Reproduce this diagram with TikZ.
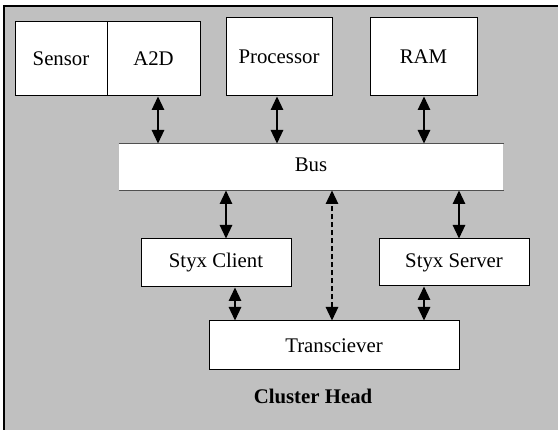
\documentclass[tikz,border=0pt]{standalone}
\usepackage{fontspec}
\setmainfont{Liberation Serif}
\usetikzlibrary{arrows.meta}
\definecolor{panelgray}{RGB}{192,192,192}
\definecolor{busline}{RGB}{80,80,80}
\tikzset{
  unit/.style={draw=black, line width=1pt, fill=white, rectangle, inner sep=0pt,
    font=\fontsize{20.8}{24}\selectfont},
  link/.style={line width=1.2pt, {Triangle[length=13.5pt,width=12.5pt]}-{Triangle[length=13.5pt,width=12.5pt]}},
  radio/.style={link, dash pattern=on 5pt off 3pt},
}
\begin{document}
\begin{tikzpicture}[x=1pt, y=-1pt]
\useasboundingbox (0,0) rectangle (558,430);
% grey housing of the cluster head
\draw[fill=panelgray, line width=1.3pt] (4,6) rectangle (575,445);

% top row
\node[unit, minimum width=92pt, minimum height=74pt] (sensor) at (61,59) {Sensor};
\node[unit, minimum width=93pt, minimum height=74pt] (a2d) at (153.5,59) {A2D};
\node[unit, minimum width=106pt, minimum height=78pt] (proc) at (279,57) {Processor};
\node[unit, minimum width=107pt, minimum height=78pt] (ram) at (423.5,57) {RAM};

% bus: white band with grey rules above and below
\node[unit, draw=none, minimum width=384pt, minimum height=46pt] (bus) at (311,167) {\raisebox{4pt}{Bus}};
\draw[busline, line width=1.5pt] (bus.north west) -- (bus.north east);
\draw[busline, line width=1.5pt] (bus.south west) -- (bus.south east);

% middle row
\node[unit, minimum width=150pt, minimum height=48pt] (client) at (216,263) {Styx Client};
\node[unit, minimum width=150pt, minimum height=47pt] (server) at (454,262.5) {Styx Server};

% radio
\node[unit, minimum width=250pt, minimum height=49pt] (trx) at (334,345.5) {Transciever};

\node[font=\fontsize{20.8}{24}\selectfont\bfseries] (title) at (313,396) {Cluster Head};

% bus connections
\draw[link] ([xshift=4.5pt]a2d.south) -- ([xshift=4.5pt]a2d.south |- bus.north);
\draw[link] ([xshift=-2pt]proc.south) -- ([xshift=-2pt]proc.south |- bus.north);
\draw[link] ([xshift=0.5pt]ram.south) -- ([xshift=0.5pt]ram.south |- bus.north);
\draw[link] ([xshift=10pt]client.north) -- ([xshift=10pt]client.north |- bus.south);
\draw[link] ([xshift=5pt]server.north) -- ([xshift=5pt]server.north |- bus.south);
\draw[radio] ([xshift=-2pt]trx.north) -- ([xshift=-2pt]trx.north |- bus.south);

% transceiver connections
\draw[link] ([xshift=19pt]client.south) -- ([xshift=19pt]client.south |- trx.north);
\draw[link] ([xshift=-30pt]server.south) -- ([xshift=-30pt]server.south |- trx.north);
\end{tikzpicture}
\end{document}
